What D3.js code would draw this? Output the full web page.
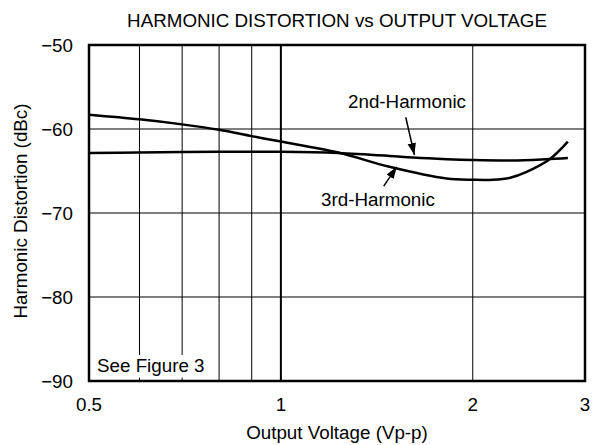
<!DOCTYPE html>
<html>
<head>
<meta charset="utf-8">
<script src="https://cdn.jsdelivr.net/npm/d3@7"></script>
<style>
  html, body { margin: 0; padding: 0; background: #fff; }
  svg { display: block; font-family: "Liberation Sans", Arial, Helvetica, sans-serif; }
</style>
</head>
<body>
<svg id="chart" width="592" height="445"></svg>
<script>
// Output voltage (Vp-p) sample points and harmonic levels (dBc)
const secondVolts = [0.5, 0.6, 0.7, 0.8, 0.9, 1.0, 1.23, 1.48, 1.61, 1.82, 2.0, 2.3, 2.6, 2.82];
const secondDbc   = [-62.85, -62.8, -62.75, -62.7, -62.7, -62.7, -62.85, -63.2, -63.4, -63.6, -63.7, -63.75, -63.6, -63.45];

const thirdVolts = [0.5, 0.6, 0.7, 0.8, 0.9, 1.0, 1.23, 1.48, 1.82, 2.0, 2.15, 2.29, 2.43, 2.64, 2.82];
const thirdDbc   = [-58.3, -58.85, -59.45, -60.1, -60.85, -61.5, -62.8, -64.5, -65.9, -66.05, -66.05, -65.8, -65.1, -63.6, -61.5];

const xTickValues = [0.5, 1, 2, 3];
const xTickLabels = ["0.5", "1", "2", "3"];
const xGridValues = [0.6, 0.7, 0.8, 0.9, 1, 2];
const yTickValues = [-90, -80, -70, -60, -50];

const svg = d3.select("#chart");
const margin = { left: 89, top: 45, right: 7, bottom: 64 };
const W = 592 - margin.left - margin.right;
const H = 445 - margin.top - margin.bottom;

const x = d3.scaleLog().domain([0.5, 3]).range([margin.left, margin.left + W]);
const y = d3.scaleLinear().domain([-90, -50]).range([margin.top + H, margin.top]);

const fontSize = 18.8;
const fmtMinus = v => v < 0 ? "\u2212" + Math.abs(v) : String(v);

// Grid
const grid = svg.append("g");
grid.selectAll("line.v").data(xGridValues).join("line")
  .attr("x1", d => x(d)).attr("x2", d => x(d))
  .attr("y1", y(-50)).attr("y2", y(-90))
  .attr("stroke", "#000")
  .attr("stroke-width", d => d === 1 ? 2 : 1);
grid.selectAll("line.h").data(yTickValues.filter(d => d > -90 && d < -50)).join("line")
  .attr("x1", x(0.5)).attr("x2", x(3))
  .attr("y1", d => y(d)).attr("y2", d => y(d))
  .attr("stroke", "#000").attr("stroke-width", 1);

// Note box in the lower-left corner
const note = svg.append("g");
note.append("rect")
  .attr("x", x(0.5) + 2).attr("y", y(-86.9))
  .attr("width", x(0.75) - x(0.5)).attr("height", y(-89.6) - y(-86.9))
  .attr("fill", "#fff");
note.append("text")
  .attr("x", x(0.5) + 8).attr("y", y(-88.9))
  .attr("font-size", fontSize).attr("fill", "#000")
  .text("See Figure 3");

// Curves
const line = d3.line()
  .x(d => x(d[0])).y(d => y(d[1]))
  .curve(d3.curveCatmullRom.alpha(0.5));

svg.append("path")
  .datum(thirdVolts.map((v, i) => [v, thirdDbc[i]]))
  .attr("d", line).attr("fill", "none")
  .attr("stroke", "#000").attr("stroke-width", 2.5);
svg.append("path")
  .datum(secondVolts.map((v, i) => [v, secondDbc[i]]))
  .attr("d", line).attr("fill", "none")
  .attr("stroke", "#000").attr("stroke-width", 2.5);

// Frame
svg.append("rect")
  .attr("x", x(0.5)).attr("y", y(-50))
  .attr("width", x(3) - x(0.5)).attr("height", y(-90) - y(-50))
  .attr("fill", "none").attr("stroke", "#000").attr("stroke-width", 2.5);

// Y tick labels
svg.append("g").selectAll("text").data(yTickValues).join("text")
  .attr("x", x(0.5) - 16).attr("y", d => y(d))
  .attr("dy", "0.35em").attr("text-anchor", "end")
  .attr("font-size", fontSize).text(fmtMinus);

// X tick labels
svg.append("g").selectAll("text").data(xTickValues).join("text")
  .attr("x", d => x(d)).attr("y", y(-90) + 30)
  .attr("text-anchor", "middle")
  .attr("font-size", fontSize).text((d, i) => xTickLabels[i]);

// Titles
svg.append("text")
  .attr("x", 337).attr("y", 27).attr("text-anchor", "middle")
  .attr("font-size", fontSize).text("HARMONIC DISTORTION vs OUTPUT VOLTAGE");
svg.append("text")
  .attr("x", 337).attr("y", 439).attr("text-anchor", "middle")
  .attr("font-size", fontSize).text("Output Voltage (Vp-p)");
svg.append("text")
  .attr("transform", "translate(27,211) rotate(-90)")
  .attr("text-anchor", "middle")
  .attr("font-size", fontSize).text("Harmonic Distortion (dBc)");

// Series annotations with arrows
svg.append("defs").append("marker")
  .attr("id", "arrow").attr("viewBox", "0 0 10 10")
  .attr("refX", 10).attr("refY", 5)
  .attr("markerWidth", 12).attr("markerHeight", 12)
  .attr("markerUnits", "userSpaceOnUse")
  .attr("orient", "auto")
  .append("path").attr("d", "M0,1.5 L10,5 L0,8.5 Z").attr("fill", "#000");

function annotate(label, lx, ly, fromV, fromDb, toV, toDb) {
  svg.append("text")
    .attr("x", lx).attr("y", ly).attr("text-anchor", "middle")
    .attr("font-size", fontSize).text(label);
  svg.append("line")
    .attr("x1", x(fromV)).attr("y1", y(fromDb))
    .attr("x2", x(toV)).attr("y2", y(toDb))
    .attr("stroke", "#000").attr("stroke-width", 1.5)
    .attr("marker-end", "url(#arrow)");
}
annotate("2nd-Harmonic", 407, 108, 1.57, -58.6, 1.62, -63.1);
annotate("3rd-Harmonic", 378, 206, 1.45, -66.8, 1.52, -64.5);
</script>
</body>
</html>
